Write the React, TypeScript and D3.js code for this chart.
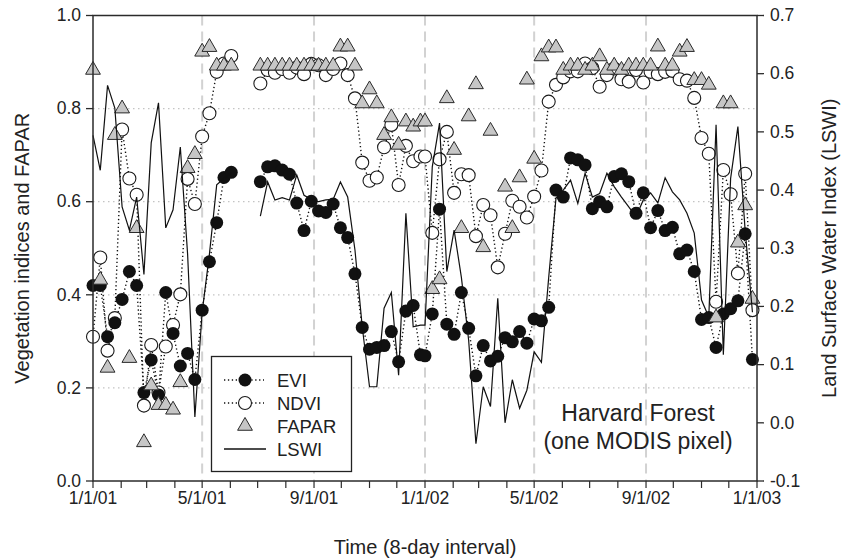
import React from "react";
import * as d3 from "d3";

// 8-day MODIS composite start days (day of year), same for both years
const years = [2001, 2002];
const compositeDoy = [
  1, 9, 17, 25, 33, 41, 49, 57, 65, 73, 81, 89, 97, 105, 113, 121, 129, 137, 145, 153, 161, 169, 177,
  185, 193, 201, 209, 217, 225, 233, 241, 249, 257, 265, 273, 281, 289, 297, 305, 313, 321, 329, 337,
  345, 353, 361,
];

const evi: (number | null)[] = [
  0.42, 0.42, 0.31, 0.34, 0.39, 0.45, 0.42, 0.19, 0.26, 0.185, 0.405, 0.317, 0.247, 0.274, 0.218, 0.367,
  0.471, 0.555, 0.652, 0.663, null, null, null, 0.643, 0.675, 0.677, 0.668, 0.659, 0.597, 0.538, 0.601,
  0.58, 0.577, 0.595, 0.544, 0.523, 0.445, 0.33, 0.283, 0.287, 0.291, 0.321, 0.256, 0.365, 0.377, 0.271,
  0.269, 0.359, 0.584, 0.337, 0.315, 0.405, 0.328, 0.226, 0.291, 0.258, 0.268, 0.308, 0.299, 0.321, 0.296,
  0.348, 0.344, 0.373, 0.625, 0.61, 0.694, 0.69, 0.679, 0.585, 0.6, 0.589, 0.654, 0.66, 0.643, 0.575,
  0.619, 0.544, 0.581, 0.538, 0.545, 0.488, 0.496, 0.45, 0.347, 0.351, 0.287, 0.359, 0.37, 0.387, 0.531,
  0.261,
];

const ndvi: (number | null)[] = [
  0.31, 0.48, 0.28, 0.35, 0.755, 0.65, 0.615, 0.162, 0.292, 0.19, 0.289, 0.335, 0.401, 0.649, 0.595, 0.74,
  0.79, 0.879, 0.897, 0.913, null, null, null, 0.854, 0.883, 0.877, 0.885, 0.877, 0.888, 0.874, 0.896,
  0.893, 0.872, 0.885, 0.897, 0.872, 0.822, 0.684, 0.645, 0.652, 0.717, 0.765, 0.636, 0.72, 0.687, 0.697,
  0.697, 0.533, 0.691, 0.75, 0.619, 0.659, 0.657, 0.526, 0.593, 0.571, 0.459, 0.531, 0.602, 0.589, 0.566,
  0.611, 0.667, 0.815, 0.851, 0.867, 0.88, 0.88, 0.897, 0.887, 0.847, 0.872, 0.886, 0.863, 0.858, 0.883,
  0.856, 0.879, 0.874, 0.879, 0.881, 0.863, 0.86, 0.823, 0.737, 0.703, 0.385, 0.668, 0.616, 0.446, 0.66,
  0.367,
];

const fapar: (number | null)[] = [
  0.883, 0.432, 0.243, 0.743, 0.8, 0.264, 0.543, 0.083, 0.205, 0.163, 0.163, 0.153, 0.212, 0.672, 0.702,
  0.922, 0.932, 0.892, 0.892, 0.892, null, null, null, 0.892, 0.892, 0.892, 0.892, 0.892, 0.892, 0.892,
  0.892, 0.892, 0.892, 0.892, 0.933, 0.933, 0.892, 0.811, 0.841, 0.811, 0.743, 0.781, 0.722, 0.772, 0.761,
  0.772, 0.772, 0.412, 0.433, 0.822, 0.711, 0.543, 0.783, 0.852, 0.502, 0.752, null, 0.632, 0.543, 0.652,
  0.862, 0.692, 0.912, 0.931, 0.931, 0.883, 0.892, 0.892, 0.883, 0.892, 0.912, 0.883, 0.892, 0.883, 0.892,
  0.892, 0.892, 0.892, 0.933, 0.892, 0.892, 0.922, 0.932, 0.861, 0.861, 0.851, 0.351, 0.811, 0.811, 0.512,
  0.592, 0.391,
];

const lswi: (number | null)[] = [
  0.494, 0.434, 0.58, 0.541, 0.371, 0.331, 0.388, 0.255, 0.481, 0.55, 0.335, 0.366, 0.474, 0.29, 0.01,
  0.19, 0.29, 0.409, 0.42, 0.43, null, null, null, 0.355, 0.414, 0.383, 0.387, 0.383, 0.426, 0.391, 0.384,
  0.38, 0.383, 0.384, 0.414, 0.388, 0.297, 0.165, 0.062, 0.062, 0.197, 0.224, 0.082, 0.36, 0.165, 0.168,
  0.168, 0.44, 0.515, 0.26, 0.331, 0.25, 0.142, -0.036, 0.062, 0.028, 0.214, 0.0, 0.074, 0.025, 0.056,
  0.122, 0.104, 0.25, 0.386, 0.4, 0.417, 0.377, 0.429, 0.388, 0.394, 0.429, 0.406, 0.388, 0.371, 0.354,
  0.383, 0.395, 0.378, 0.421, 0.397, 0.383, 0.36, 0.326, 0.211, 0.182, 0.512, 0.117, 0.42, 0.509, 0.33,
  0.19,
];

const leftTicks = [0, 0.2, 0.4, 0.6, 0.8, 1.0];
const rightTicks = [-0.1, 0, 0.1, 0.2, 0.3, 0.4, 0.5, 0.6, 0.7];
const gridValues = [0.2, 0.4, 0.6, 0.8];
const legendItems = ["EVI", "NDVI", "FAPAR", "LSWI"];
const siteLines = ["Harvard Forest", "(one MODIS pixel)"];

const W = 841;
const H = 560;
const plot = { left: 93, right: 757, top: 15.5, bottom: 481 };
const FONT = "'Liberation Sans', Arial, Helvetica, sans-serif";

const dates = years.flatMap((y) => compositeDoy.map((d) => new Date(y, 0, d)));

export default function App() {
  const x = d3
    .scaleTime()
    .domain([new Date(2001, 0, 1), new Date(2003, 0, 1)])
    .range([plot.left, plot.right]);
  const yL = d3.scaleLinear().domain([0, 1]).range([plot.bottom, plot.top]);
  const yR = d3.scaleLinear().domain([-0.1, 0.7]).range([plot.bottom, plot.top]);

  const majorTicks = d3.timeMonth.every(4)!.range(new Date(2001, 0, 1), new Date(2003, 0, 2));
  const minorTicks = d3.timeMonth.range(new Date(2001, 0, 1), new Date(2003, 0, 2));
  const fmtDate = d3.timeFormat("%-m/%-d/%y");
  const fmtNum = (v: number) => (v < 0 ? "-" : "") + Math.abs(v).toFixed(1);

  const idx = d3.range(dates.length);
  const lineL = (vals: (number | null)[]) =>
    d3
      .line<number>()
      .defined((i) => vals[i] != null)
      .x((i) => x(dates[i]))
      .y((i) => yL(vals[i] as number))(idx) || "";
  const lineR = d3
    .line<number>()
    .defined((i) => lswi[i] != null)
    .x((i) => x(dates[i]))
    .y((i) => yR(lswi[i] as number))(idx) || "";

  const tri = d3.symbol(d3.symbolTriangle, 95)() || "";

  const innerGrid = majorTicks.filter((d) => +d > +x.domain()[0] && +d < +x.domain()[1]);

  const legend = { x: 211.5, y: 356.5, w: 140, h: 115 };
  const rowY = [380, 403, 426, 449];

  return (
    <svg
      width={W}
      height={H}
      style={{ position: "absolute", left: 0, top: 0, background: "#fff" }}
      fontFamily={FONT}
    >
      <rect x={0} y={0} width={W} height={H} fill="#fff" />

      {/* horizontal dotted grid */}
      {gridValues.map((v) => (
        <line
          key={"hg" + v}
          x1={plot.left}
          x2={plot.right}
          y1={yL(v)}
          y2={yL(v)}
          stroke="#c4c4c4"
          strokeWidth={1.3}
          strokeDasharray="1.5 3.5"
        />
      ))}
      {/* vertical dashed grid */}
      {innerGrid.map((d) => (
        <line
          key={"vg" + +d}
          x1={x(d)}
          x2={x(d)}
          y1={plot.top}
          y2={plot.bottom}
          stroke="#d2d2d2"
          strokeWidth={2}
          strokeDasharray="10 6"
        />
      ))}

      {/* dotted connectors */}
      <path d={lineL(ndvi)} fill="none" stroke="#111" strokeWidth={1.4} strokeDasharray="1.3 2.6" />
      <path d={lineL(evi)} fill="none" stroke="#111" strokeWidth={1.4} strokeDasharray="1.3 2.6" />

      {/* NDVI */}
      {idx
        .filter((i) => ndvi[i] != null)
        .map((i) => (
          <circle
            key={"n" + i}
            cx={x(dates[i])}
            cy={yL(ndvi[i] as number)}
            r={6.5}
            fill="#fff"
            stroke="#1a1a1a"
            strokeWidth={1.1}
          />
        ))}
      {/* EVI */}
      {idx
        .filter((i) => evi[i] != null)
        .map((i) => (
          <circle key={"e" + i} cx={x(dates[i])} cy={yL(evi[i] as number)} r={6.5} fill="#111" />
        ))}
      {/* FAPAR */}
      {idx
        .filter((i) => fapar[i] != null)
        .map((i) => (
          <path
            key={"f" + i}
            d={tri}
            transform={`translate(${x(dates[i])},${yL(fapar[i] as number)})`}
            fill="#c6c6c6"
            stroke="#2a2a2a"
            strokeWidth={1}
          />
        ))}
      {/* LSWI */}
      <path d={lineR} fill="none" stroke="#111" strokeWidth={1.2} strokeLinejoin="miter" />

      {/* frame and axes */}
      <rect
        x={plot.left}
        y={plot.top}
        width={plot.right - plot.left}
        height={plot.bottom - plot.top}
        fill="none"
        stroke="#2b2b2b"
        strokeWidth={1.5}
      />
      {leftTicks.map((v) => (
        <g key={"lt" + v}>
          <line x1={plot.left - 7} x2={plot.left} y1={yL(v)} y2={yL(v)} stroke="#2b2b2b" strokeWidth={1.3} />
          <text x={plot.left - 12} y={yL(v)} dy="0.33em" textAnchor="end" fontSize={17.5} fill="#222">
            {fmtNum(v)}
          </text>
        </g>
      ))}
      {rightTicks.map((v) => (
        <g key={"rt" + v}>
          <line x1={plot.right} x2={plot.right + 7} y1={yR(v)} y2={yR(v)} stroke="#2b2b2b" strokeWidth={1.3} />
          <text x={plot.right + 13} y={yR(v)} dy="0.33em" textAnchor="start" fontSize={17.5} fill="#222">
            {fmtNum(v)}
          </text>
        </g>
      ))}
      {minorTicks.map((d) => (
        <line
          key={"mt" + +d}
          x1={x(d)}
          x2={x(d)}
          y1={plot.bottom}
          y2={plot.bottom + 7}
          stroke="#2b2b2b"
          strokeWidth={1.2}
        />
      ))}
      {majorTicks.map((d) => (
        <text key={"xl" + +d} x={x(d)} y={504} textAnchor="middle" fontSize={17.5} fill="#222">
          {fmtDate(d)}
        </text>
      ))}

      {/* axis titles */}
      <text x={425} y={554} textAnchor="middle" fontSize={20} fill="#222">
        Time (8-day interval)
      </text>
      <text
        transform={`translate(29,${(plot.top + plot.bottom) / 2}) rotate(-90)`}
        textAnchor="middle"
        fontSize={20}
        fill="#222"
      >
        Vegetation indices and FAPAR
      </text>
      <text
        transform={`translate(836,${(plot.top + plot.bottom) / 2}) rotate(-90)`}
        textAnchor="middle"
        fontSize={20}
        fill="#222"
      >
        Land Surface Water Index (LSWI)
      </text>

      {/* legend */}
      <rect x={legend.x} y={legend.y} width={legend.w} height={legend.h} fill="#fff" stroke="#222" strokeWidth={1.3} />
      {legendItems.map((name, k) => {
        const cy = rowY[k];
        return (
          <g key={"lg" + name}>
            {k < 2 && (
              <line x1={224} x2={264} y1={cy} y2={cy} stroke="#111" strokeWidth={1.4} strokeDasharray="1.3 2.6" />
            )}
            {k === 0 && <circle cx={245} cy={cy} r={6.5} fill="#111" />}
            {k === 1 && <circle cx={245} cy={cy} r={6.5} fill="#fff" stroke="#1a1a1a" strokeWidth={1.1} />}
            {k === 2 && (
              <path d={tri} transform={`translate(245,${cy})`} fill="#c6c6c6" stroke="#2a2a2a" strokeWidth={1} />
            )}
            {k === 3 && <line x1={224} x2={266} y1={cy} y2={cy} stroke="#111" strokeWidth={1.3} />}
            <text x={277} y={cy} dy="0.36em" fontSize={18.5} fill="#222">
              {name}
            </text>
          </g>
        );
      })}

      {/* site label */}
      {siteLines.map((t, k) => (
        <text key={"s" + k} x={638} y={421 + k * 28} textAnchor="middle" fontSize={23} fill="#222">
          {t}
        </text>
      ))}
    </svg>
  );
}
